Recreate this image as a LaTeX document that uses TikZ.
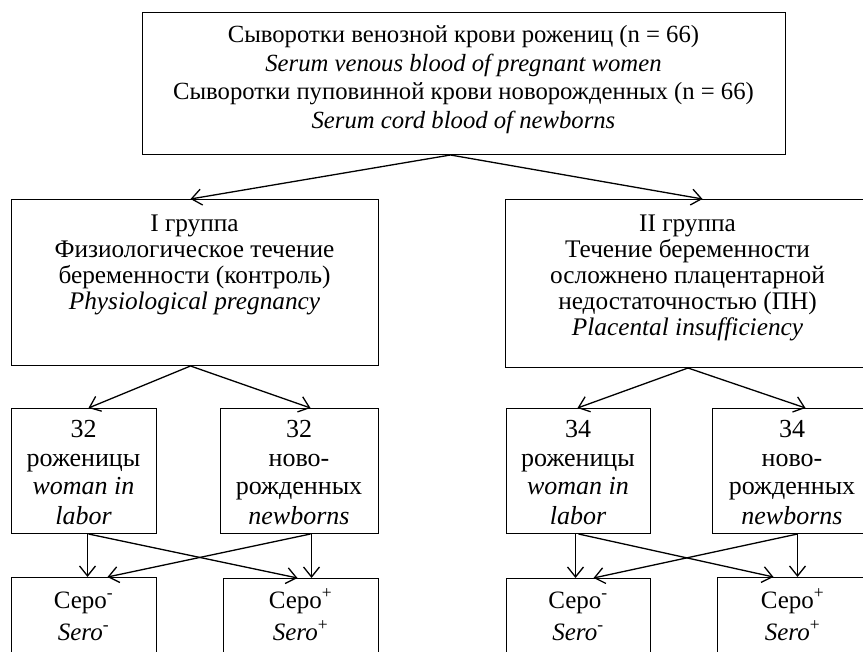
\documentclass[tikz,border=0pt]{standalone}
\usepackage{fontspec}
\setmainfont{Liberation Serif}
\usetikzlibrary{arrows.meta}
\tikzset{
  box/.style={draw=black, line width=1pt, rectangle, inner sep=0pt, anchor=north west},
  txt/.style={anchor=base, align=center, inner sep=0pt},
  arr/.style={line width=1.3pt, -{Straight Barb[length=10pt,width=16pt,line width=1.3pt]}}
}
\newcommand{\fA}{\fontsize{24.7}{28.5}\selectfont}
\newcommand{\fB}{\fontsize{25.3}{26}\selectfont}
\newcommand{\fC}{\fontsize{26}{29}\selectfont}
\newcommand{\fD}{\fontsize{25}{32}\selectfont}
\begin{document}
\begin{tikzpicture}[x=1pt,y=-1pt]
\useasboundingbox (0,0) rectangle (863,652);
\clip (0,0) rectangle (863,652);
\fill[white] (0,0) rectangle (863,652);
% boxes
\node[box, minimum width=643pt, minimum height=142pt] (top) at (142,12) {};
\node[box, minimum width=367pt, minimum height=166pt] (g1) at (11,199) {};
\node[box, minimum width=365pt, minimum height=168pt] (g2) at (505,199) {};
\node[box, minimum width=145pt, minimum height=125pt] (a1) at (11,408) {};
\node[box, minimum width=158pt, minimum height=125pt] (a2) at (220,408) {};
\node[box, minimum width=144pt, minimum height=125pt] (b1) at (506,408) {};
\node[box, minimum width=160pt, minimum height=125pt] (b2) at (712,408) {};
\node[box, minimum width=145pt, minimum height=100pt] (c1) at (11,577) {};
\node[box, minimum width=155pt, minimum height=100pt] (c2) at (223,578) {};
\node[box, minimum width=144pt, minimum height=100pt] (d1) at (506,578) {};
\node[box, minimum width=155pt, minimum height=100pt] (d2) at (717,577) {};
% texts (anchor base = baseline of last line)
\node[txt, font=\fA] (ttop) at (463.5,128.5) {Сыворотки венозной крови рожениц (n = 66)\\ \textit{Serum venous blood of pregnant women}\\ Сыворотки пуповинной крови новорожденных (n = 66)\\ \textit{Serum cord blood of newborns}};
\node[txt, font=\fB] (tg1) at (194.5,309.5) {I группа\\ Физиологическое течение\\ беременности (контроль)\\ \textit{Physiological pregnancy}};
\node[txt, font=\fB] (tg2) at (687.5,335.5) {II группа\\ Течение беременности\\ осложнено плацентарной\\ недостаточностью (ПН)\\ \textit{Placental insufficiency}};
\node[txt, font=\fC] (ta1) at (83.5,524) {32\\ роженицы\\ \textit{woman in}\\ \textit{labor}};
\node[txt, font=\fC] (ta2) at (299,524) {32\\ ново-\\ рожденных\\ \textit{newborns}};
\node[txt, font=\fC] (tb1) at (578,524) {34\\ роженицы\\ \textit{woman in}\\ \textit{labor}};
\node[txt, font=\fC] (tb2) at (792,524) {34\\ ново-\\ рожденных\\ \textit{newborns}};
\node[txt, font=\fD] (tc1) at (83.5,640) {Серо\textsuperscript{-}\\ \textit{Sero}\textsuperscript{-}};
\node[txt, font=\fD] (tc2) at (300.5,640) {Серо\textsuperscript{+}\\ \textit{Sero}\textsuperscript{+}};
\node[txt, font=\fD] (td1) at (578,640) {Серо\textsuperscript{-}\\ \textit{Sero}\textsuperscript{-}};
\node[txt, font=\fD] (td2) at (792.5,640) {Серо\textsuperscript{+}\\ \textit{Sero}\textsuperscript{+}};
% arrows
\draw[arr] ([xshift=-13.5pt]top.south) -- ([xshift=-4.5pt]g1.north);
\draw[arr] ([xshift=-13.5pt]top.south) -- ([xshift=14.5pt]g2.north);
\draw[arr] ([xshift=-4.5pt]g1.south) -- ([xshift=4.5pt]a1.north);
\draw[arr] ([xshift=-4.5pt]g1.south) -- ([xshift=11pt]a2.north);
\draw[arr] (g2.south) -- ([xshift=-1pt]b1.north);
\draw[arr] (g2.south) -- ([xshift=13pt]b2.north);
\draw[arr] ([xshift=3.5pt]a1.south) -- ([xshift=3.5pt]c1.north);
\draw[arr] ([xshift=4.5pt]a1.south) -- ([xshift=-3.5pt]c2.north);
\draw[arr] ([xshift=12pt]a2.south) -- ([xshift=10.5pt]c2.north);
\draw[arr] ([xshift=11pt]a2.south) -- ([xshift=23.5pt]c1.north);
\draw[arr] ([xshift=-3pt]b1.south) -- ([xshift=-3pt]d1.north);
\draw[arr] (b1.south) -- ([xshift=-21.5pt]d2.north);
\draw[arr] ([xshift=5pt]b2.south) -- ([xshift=2.5pt]d2.north);
\draw[arr] ([xshift=5pt]b2.south) -- ([xshift=15pt]d1.north);
\end{tikzpicture}
\end{document}
